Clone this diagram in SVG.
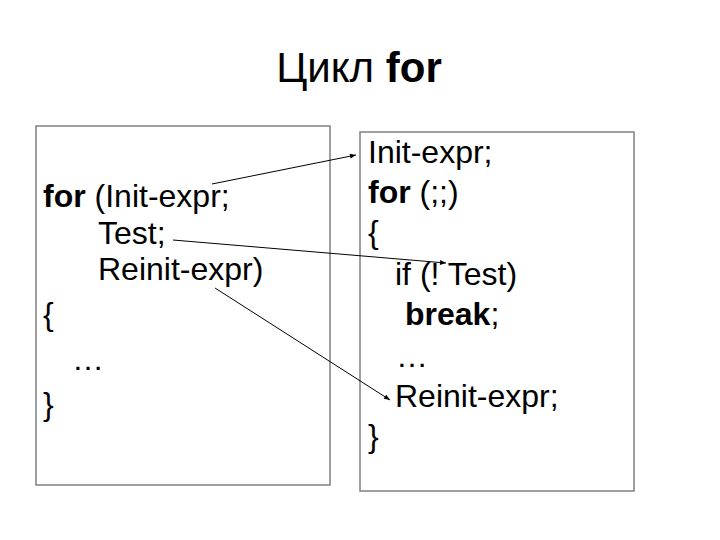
<svg xmlns="http://www.w3.org/2000/svg" width="720" height="540" viewBox="0 0 720 540">
<defs>
<style>
.t{font-family:"Liberation Sans",Arial,sans-serif;font-size:32px;fill:#000}
.b{font-weight:bold}
.box{fill:#fff;stroke:#808080;stroke-width:1.5}
.ln{stroke:#000;stroke-width:1;fill:none;marker-end:url(#ah)}
</style>
<marker id="ah" viewBox="0 0 10 10" refX="10" refY="5" markerWidth="7" markerHeight="6" markerUnits="userSpaceOnUse" orient="auto">
<path d="M0,1 L10,5 L0,9 z" fill="#000"/>
</marker>
</defs>
<rect width="720" height="540" fill="#fff"/>
<g id="title">
<text x="359" y="82" text-anchor="middle" style="font-family:'Liberation Sans',Arial,sans-serif;font-size:42px">Цикл <tspan font-weight="bold">for</tspan></text>
</g>
<g id="left">
<rect class="box" x="36" y="126" width="294" height="359"/>
<text class="t" x="43" y="207"><tspan class="b">for</tspan> (Init-expr;</text>
<text class="t" x="98" y="244">Test;</text>
<text class="t" x="98" y="280">Reinit-expr)</text>
<text class="t" x="43" y="325">{</text>
<text class="t" x="72" y="370">…</text>
<text class="t" x="43" y="415">}</text>
</g>
<g id="right">
<rect class="box" x="360" y="132" width="274" height="359"/>
<text class="t" x="368" y="163">Init-expr;</text>
<text class="t" x="368" y="203"><tspan class="b">for</tspan> (;;)</text>
<text class="t" x="368" y="243">{</text>
<text class="t" x="395" y="285">if (! Test)</text>
<text class="t" x="405" y="325"><tspan class="b">break</tspan>;</text>
<text class="t" x="396" y="367">…</text>
<text class="t" x="395" y="407">Reinit-expr;</text>
<text class="t" x="368" y="447">}</text>
</g>
<g id="connectors">
<line class="ln" x1="212" y1="184" x2="356" y2="155"/>
<line class="ln" x1="173" y1="240" x2="446" y2="263"/>
<line class="ln" x1="215" y1="288" x2="390" y2="400"/>
</g>
</svg>
